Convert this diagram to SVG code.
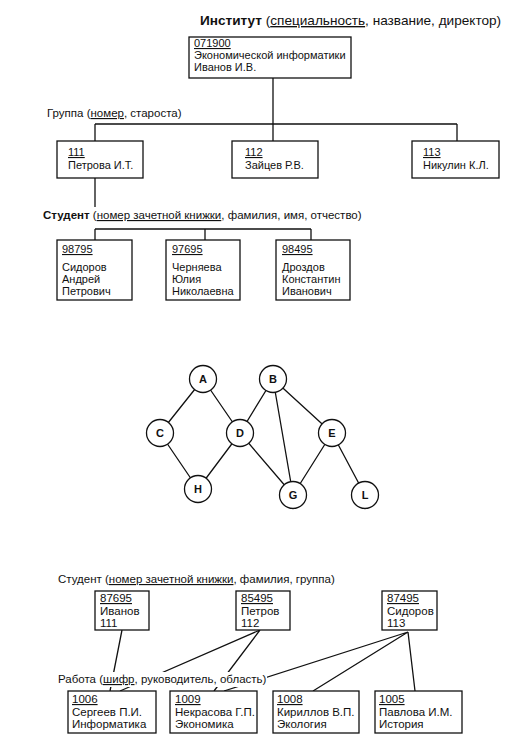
<svg xmlns="http://www.w3.org/2000/svg" width="519" height="749" viewBox="0 0 519 749">
<style>
text{font-family:"Liberation Sans",Arial,sans-serif;font-size:11px;fill:#111}
.b{font-weight:bold}
.u{text-decoration:underline}
.t{font-size:13.6px}
.m{font-size:11.5px}
.lb{font-size:11.5px}
.box{fill:#fff;stroke:#111;stroke-width:1.3}
.ln{stroke:#111;stroke-width:1.3;fill:none}
.node circle{fill:#fff;stroke:#111;stroke-width:1.3}
.node text{font-weight:bold;font-size:11px;text-anchor:middle}
</style>
<rect width="519" height="749" fill="#fff"/>

<!-- Hierarchical model -->
<g id="connectors-top">
<path class="ln" d="M273,78V124M95,124H457M95,124V141M273,124V141M457,124V141"/>
<path class="ln" d="M95,178V207M95,229H311M95,229V240M205,229V240M311,229V240"/>
</g>
<text x="200" y="25" class="t"><tspan class="b">Институт</tspan> (<tspan class="u">специальность</tspan>, название, директор)</text>
<g id="inst">
<rect class="box" x="189" y="37" width="162" height="41"/>
<text x="194" y="47"><tspan class="u">071900</tspan></text>
<text x="194" y="59">Экономической информатики</text>
<text x="194" y="71">Иванов И.В.</text>
</g>
<text class="lb" x="47" y="117">Группа (<tspan class="u">номер</tspan>, староста)</text>
<g id="g111">
<rect class="box" x="57" y="141" width="86" height="37"/>
<text x="68" y="156"><tspan class="u">111</tspan></text>
<text x="68" y="169">Петрова И.Т.</text>
</g>
<g id="g112">
<rect class="box" x="232" y="141" width="86" height="37"/>
<text x="245" y="156"><tspan class="u">112</tspan></text>
<text x="245" y="169">Зайцев Р.В.</text>
</g>
<g id="g113">
<rect class="box" x="412" y="141" width="87" height="37"/>
<text x="423" y="156"><tspan class="u">113</tspan></text>
<text x="423" y="169">Никулин К.Л.</text>
</g>
<text class="lb" x="43" y="219"><tspan class="b">Студент</tspan> (<tspan class="u">номер зачетной книжки</tspan>, фамилия, имя, отчество)</text>
<g id="s98795">
<rect class="box" x="57" y="240" width="75" height="60"/>
<text x="62" y="253"><tspan class="u">98795</tspan></text>
<text x="62" y="271">Сидоров</text>
<text x="62" y="283">Андрей</text>
<text x="62" y="295">Петрович</text>
</g>
<g id="s97695">
<rect class="box" x="166" y="240" width="74" height="60"/>
<text x="172" y="253"><tspan class="u">97695</tspan></text>
<text x="172" y="271">Черняева</text>
<text x="172" y="283">Юлия</text>
<text x="172" y="295">Николаевна</text>
</g>
<g id="s98495">
<rect class="box" x="276" y="240" width="74" height="60"/>
<text x="282" y="253"><tspan class="u">98495</tspan></text>
<text x="282" y="271">Дроздов</text>
<text x="282" y="283">Константин</text>
<text x="282" y="295">Иванович</text>
</g>

<!-- Graph -->
<g id="connectors-graph">
<path class="ln" d="M203,379L160,433M203,379L240,433M160,433L198,489M240,433L198,489M273,379L240,433M273,379L293,495M273,379L332,433M240,433L293,495M332,433L293,495M332,433L365,495"/>
</g>
<g class="node" id="nA"><circle cx="203" cy="379" r="13.5"/><text x="203" y="383">A</text></g>
<g class="node" id="nB"><circle cx="273" cy="379" r="13.5"/><text x="273" y="383">B</text></g>
<g class="node" id="nC"><circle cx="160" cy="433" r="13.5"/><text x="160" y="437">C</text></g>
<g class="node" id="nD"><circle cx="240" cy="433" r="13.5"/><text x="240" y="437">D</text></g>
<g class="node" id="nE"><circle cx="332" cy="433" r="13.5"/><text x="332" y="437">E</text></g>
<g class="node" id="nH"><circle cx="198" cy="489" r="13.5"/><text x="198" y="493">H</text></g>
<g class="node" id="nG"><circle cx="293" cy="495" r="13.5"/><text x="293" y="499">G</text></g>
<g class="node" id="nL"><circle cx="365" cy="495" r="13.5"/><text x="365" y="499">L</text></g>

<!-- Network model -->
<text class="lb" x="58" y="583">Студент (<tspan class="u">номер зачетной книжки</tspan>, фамилия, группа)</text>
<g id="connectors-bottom">
<path class="ln" d="M122,630L110,691M260,630L120,691M260,630L214,691M408,632L224,691M408,632L313,691M408,632L415,691"/>
</g>
<rect x="56" y="672" width="211" height="15" fill="#fff"/>
<text class="lb" x="58" y="683">Работа (<tspan class="u">шифр</tspan>, руководитель, область)</text>
<g id="b87695">
<rect class="box" x="95" y="591" width="54" height="39"/>
<text class="m" x="100" y="602"><tspan class="u">87695</tspan></text>
<text class="m" x="100" y="615">Иванов</text>
<text class="m" x="100" y="627">111</text>
</g>
<g id="b85495">
<rect class="box" x="236" y="591" width="54" height="39"/>
<text class="m" x="241" y="602"><tspan class="u">85495</tspan></text>
<text class="m" x="241" y="615">Петров</text>
<text class="m" x="241" y="627">112</text>
</g>
<g id="b87495">
<rect class="box" x="382" y="591" width="55" height="39"/>
<text class="m" x="387" y="602"><tspan class="u">87495</tspan></text>
<text class="m" x="387" y="615">Сидоров</text>
<text class="m" x="387" y="627">113</text>
</g>
<g id="w1006">
<rect class="box" x="68" y="691" width="88" height="42"/>
<text class="m" x="72" y="703"><tspan class="u">1006</tspan></text>
<text class="m" x="72" y="716">Сергеев П.И.</text>
<text class="m" x="72" y="728">Информатика</text>
</g>
<g id="w1009">
<rect class="box" x="170" y="691" width="87" height="42"/>
<text class="m" x="175" y="703"><tspan class="u">1009</tspan></text>
<text class="m" x="175" y="716">Некрасова Г.П.</text>
<text class="m" x="175" y="728">Экономика</text>
</g>
<g id="w1008">
<rect class="box" x="273" y="691" width="86" height="42"/>
<text class="m" x="277" y="703"><tspan class="u">1008</tspan></text>
<text class="m" x="277" y="716">Кириллов В.П.</text>
<text class="m" x="277" y="728">Экология</text>
</g>
<g id="w1005">
<rect class="box" x="375" y="691" width="87" height="42"/>
<text class="m" x="379" y="703"><tspan class="u">1005</tspan></text>
<text class="m" x="379" y="716">Павлова И.М.</text>
<text class="m" x="379" y="728">История</text>
</g>
</svg>
